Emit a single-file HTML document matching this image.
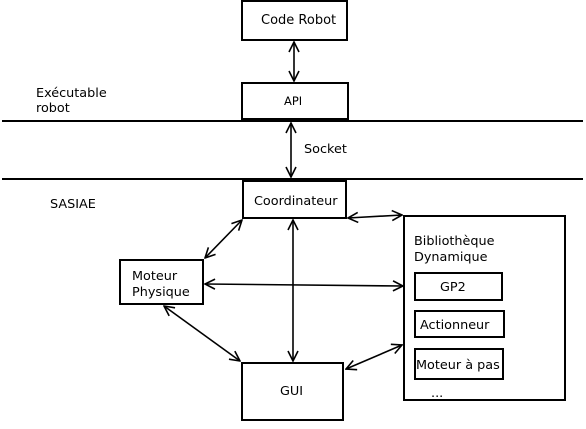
<!DOCTYPE html>
<html><head><meta charset="utf-8"><style>body{margin:0;background:#fff}</style></head><body>
<svg width="586" height="424" xmlns="http://www.w3.org/2000/svg" font-family="DejaVu Sans, Liberation Sans, sans-serif" font-size="12.8">
<defs><marker id="a" markerWidth="12" markerHeight="12" refX="11" refY="6" orient="auto-start-reverse" markerUnits="userSpaceOnUse"><path d="M1,1 L11,6 L1,11" fill="none" stroke="#000" stroke-width="1.6"/></marker></defs>
<g fill="none" stroke="#000" stroke-width="2">
<rect x="242" y="1" width="105" height="39"/>
<rect x="242" y="83" width="106" height="36"/>
<rect x="243" y="181" width="103" height="37"/>
<rect x="404" y="216" width="161" height="184"/>
<rect x="120" y="260" width="83" height="44"/>
<rect x="242" y="363" width="101" height="57"/>
<rect x="415" y="273" width="87" height="27"/>
<rect x="415" y="311" width="89" height="26"/>
<rect x="415" y="349" width="88" height="30"/>
<line x1="2" y1="121" x2="583" y2="121"/>
<line x1="2" y1="179" x2="583" y2="179"/>
</g>
<g stroke="#000" stroke-width="1.6" marker-start="url(#a)" marker-end="url(#a)">
<line x1="294" y1="42" x2="294" y2="81"/>
<line x1="291" y1="123" x2="291" y2="177"/>
<line x1="293" y1="220" x2="293" y2="361"/>
<line x1="348" y1="218" x2="402" y2="215"/>
<line x1="242" y1="220" x2="205" y2="258"/>
<line x1="205" y1="284" x2="403" y2="286"/>
<line x1="164" y1="306" x2="240" y2="361"/>
<line x1="346" y1="369" x2="402" y2="345"/>
</g>
<g fill="#000">
<text x="261" y="24" font-size="13">Code Robot</text>
<text x="284" y="105" font-size="11.5">API</text>
<text x="36" y="97">Exécutable</text>
<text x="36" y="112">robot</text>
<text x="304" y="153">Socket</text>
<text x="50" y="208">SASIAE</text>
<text x="254" y="205">Coordinateur</text>
<text x="132" y="280">Moteur</text>
<text x="132" y="296">Physique</text>
<text x="414" y="245">Bibliothèque</text>
<text x="414" y="261">Dynamique</text>
<text x="440" y="291">GP2</text>
<text x="420" y="329">Actionneur</text>
<text x="416" y="369">Moteur à pas</text>
<text x="431" y="397">...</text>
<text x="280" y="395">GUI</text>
</g>
</svg>
</body></html>
